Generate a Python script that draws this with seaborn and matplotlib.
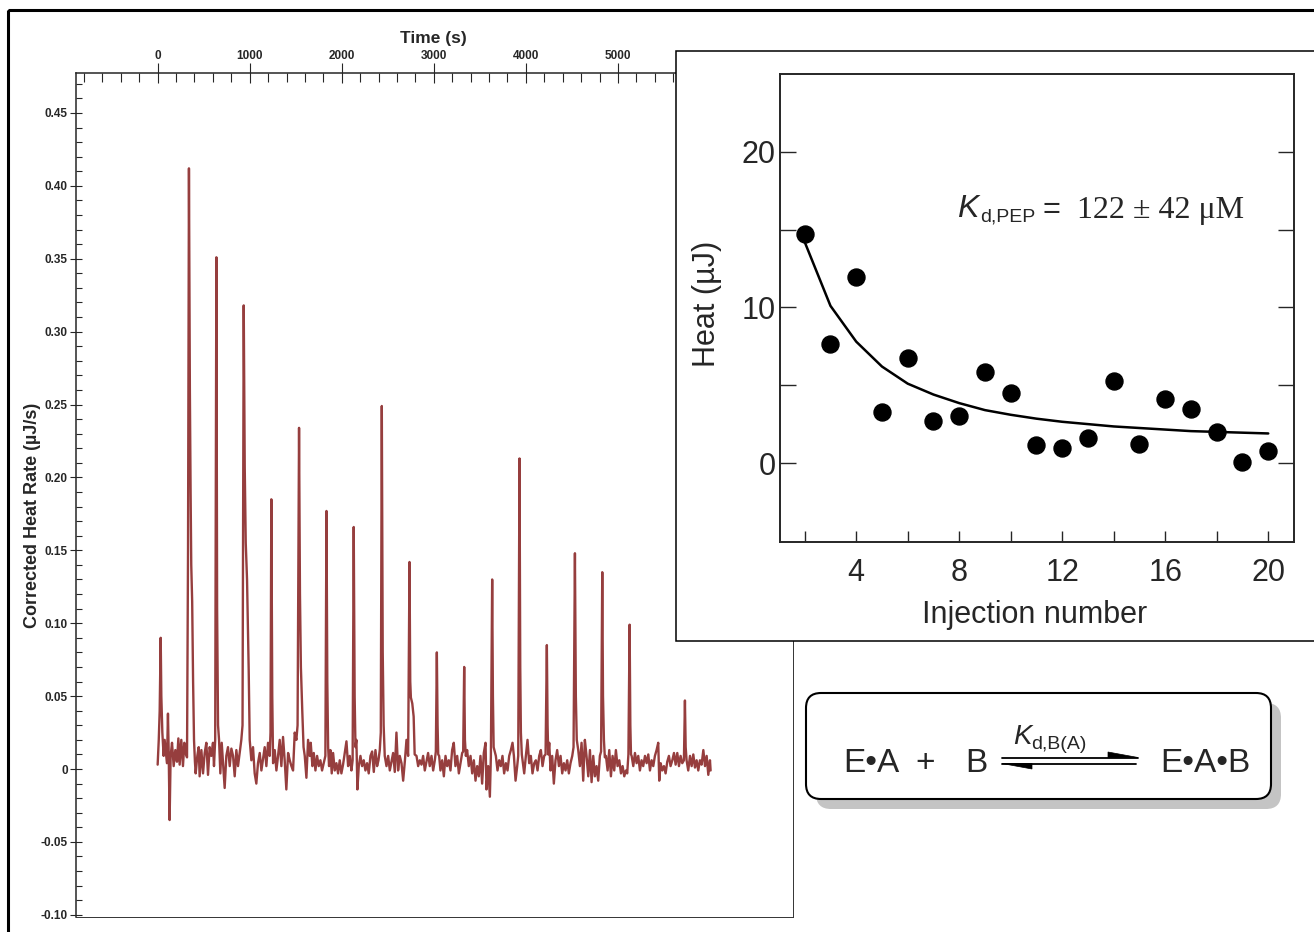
import matplotlib
matplotlib.use("Agg")
import matplotlib.pyplot as plt
import seaborn as sns
from matplotlib import font_manager
from matplotlib.patches import Rectangle, FancyBboxPatch, Polygon
from matplotlib.ticker import FixedLocator, FuncFormatter

# ITC thermogram (time in s, corrected heat rate in uJ/s)
time_s = [
    0, 12, 22, 33, 40, 51, 65, 76, 87, 101, 112, 120, 130, 141, 156, 174, 192, 210, 225, 239, 257, 275, 290, 304, 319,
    330, 340, 350, 358, 365, 375, 385, 395, 405,
    413, 431, 446, 456, 475, 493, 511, 529, 547, 565, 583, 601, 612, 625,
    638, 646, 656,
    667, 681, 696, 710, 728, 746, 764, 783, 801, 819, 837, 855, 873, 891, 909, 922,
    935, 946, 957, 971, 989,
    1000, 1018, 1036, 1054, 1072, 1090, 1109, 1127, 1145, 1163, 1181, 1199, 1217, 1226,
    1235, 1245,
    1254, 1272, 1290, 1308, 1326, 1344, 1362, 1380, 1398, 1417, 1435, 1453, 1471, 1489, 1507, 1520,
    1536, 1546, 1556, 1571, 1585,
    1598, 1616, 1634, 1652, 1663, 1681, 1696, 1714, 1732, 1750, 1768, 1786, 1804, 1822,
    1834, 1843, 1852,
    1862, 1877, 1891, 1906, 1924, 1942, 1960, 1978, 1996, 2014, 2033, 2051, 2069, 2087, 2105, 2118,
    2130, 2140, 2149,
    2159, 2170, 2185, 2203, 2221, 2239, 2257, 2275, 2293, 2312, 2330, 2348, 2366, 2384, 2399, 2413, 2424,
    2435, 2445, 2455,
    2467, 2486, 2504, 2522, 2540, 2558, 2576, 2594, 2612, 2630, 2649, 2667, 2685, 2703, 2721,
    2736, 2744, 2751, 2766, 2781, 2792,
    2812, 2830, 2848, 2866, 2884, 2902, 2920, 2938, 2956, 2975, 2993, 3011, 3022,
    3033, 3041, 3048,
    3058, 3072, 3091, 3109, 3127, 3145, 3163, 3181, 3199, 3217, 3235, 3254, 3272, 3290, 3308, 3319,
    3330, 3338,
    3348, 3362, 3380, 3399, 3417, 3435, 3453, 3471, 3489, 3507, 3525, 3543, 3562, 3572, 3591, 3609, 3620,
    3634, 3642, 3650,
    3674, 3692, 3710, 3728, 3746, 3764, 3783, 3801, 3819, 3837, 3855, 3870, 3888, 3906, 3917,
    3931, 3939, 3946, 3956,
    3964, 3982, 4000, 4018, 4036, 4054, 4072, 4091, 4109, 4127, 4145, 4163, 4181, 4199, 4214,
    4228, 4236, 4243,
    4254, 4268, 4286, 4304, 4322, 4340, 4359, 4377, 4395, 4413, 4431, 4449, 4467, 4485, 4504, 4518,
    4533, 4543, 4553,
    4569, 4587, 4605, 4623, 4641, 4659, 4678, 4696, 4714, 4732, 4750, 4768, 4786, 4804, 4817,
    4830, 4838, 4848, 4858,
    4870, 4888, 4906, 4924, 4942, 4960, 4978, 4996, 5015, 5033, 5051, 5069, 5087, 5101, 5114,
    5127, 5135, 5142,
    5149, 5167, 5185, 5203, 5221, 5239, 5257, 5275, 5294, 5312, 5330, 5348, 5366, 5384, 5402, 5420,
    5438, 5449, 5464, 5482, 5500, 5518, 5536, 5554, 5572, 5591, 5609, 5627, 5645, 5663, 5681, 5699, 5717,
    5728, 5736,
    5746, 5764, 5783, 5801, 5819, 5837, 5855, 5873, 5891, 5909, 5928, 5946, 5964, 5982, 6000, 6007,
]
rate = [
    0.003, 0.020, 0.040, 0.090, 0.050, 0.025, 0.009, 0.020, 0.013, 0.004, 0.038, 0.011, -0.035, 0.009, 0.018, 0.002,
    0.013, 0.005, 0.021, 0.003, 0.020, 0.002, 0.018, 0.011, 0.008,
    0.150, 0.412, 0.260, 0.190, 0.140, 0.115, 0.060, 0.020, 0.005,
    -0.003, 0.009, 0.015, -0.005, 0.013, -0.003, 0.011, 0.018, -0.004, 0.015, 0.009, 0.018, 0.002, 0.020,
    0.351, 0.110, 0.030,
    0.020, -0.003, 0.018, 0.004, -0.013, 0.009, 0.015, 0.002, 0.014, 0.009, -0.005, 0.013, 0.002, 0.011, 0.020, 0.030,
    0.318, 0.207, 0.155, 0.130, 0.068,
    0.020, 0.006, 0.015, -0.003, -0.010, 0.004, 0.011, -0.001, 0.007, 0.015, 0.002, 0.018, 0.009, 0.025,
    0.185, 0.050,
    0.004, 0.013, -0.001, 0.009, 0.020, 0.002, 0.022, 0.006, -0.014, 0.011, 0.006, 0.002, -0.001, 0.025, 0.020, 0.030,
    0.234, 0.120, 0.070, 0.040, 0.015,
    0.009, -0.006, 0.020, 0.009, 0.018, 0.002, 0.011, -0.001, 0.009, 0.002, 0.006, -0.001, 0.004, 0.009,
    0.177, 0.060, 0.015,
    0.002, 0.013, -0.003, 0.011, -0.001, 0.004, -0.003, 0.006, -0.003, 0.003, 0.011, 0.019, 0.002, 0.009, -0.001, 0.006,
    0.166, 0.050, 0.015,
    0.020, -0.014, 0.002, 0.009, 0.002, 0.006, -0.001, 0.004, -0.003, 0.009, 0.012, -0.002, 0.013, 0.002, 0.006, 0.013,
    0.025,
    0.249, 0.080, 0.030,
    0.009, 0.002, 0.009, -0.001, 0.005, 0.011, -0.002, 0.025, -0.001, 0.009, 0.004, -0.008, 0.005, 0.020, 0.009,
    0.142, 0.060, 0.049, 0.045, 0.036, 0.010,
    0.009, 0.002, 0.006, 0.003, 0.009, -0.001, 0.005, 0.011, 0.002, 0.009, -0.001, 0.006, 0.012,
    0.080, 0.030, 0.010,
    0.009, -0.001, 0.006, -0.005, 0.009, 0.002, 0.006, -0.001, 0.013, 0.018, 0.002, 0.009, -0.003, 0.004, 0.011, 0.012,
    0.070, 0.020,
    0.009, 0.013, 0.002, 0.009, -0.003, 0.006, -0.008, 0.002, -0.005, 0.009, -0.010, 0.011, 0.018, -0.014, 0.002,
    -0.019, 0.009,
    0.130, 0.050, 0.015,
    0.009, -0.001, 0.006, 0.002, 0.009, -0.003, 0.004, -0.001, 0.009, 0.013, 0.018, 0.009, -0.008, 0.002, 0.009,
    0.213, 0.070, 0.025, 0.010,
    0.006, -0.003, 0.009, 0.020, 0.004, 0.009, -0.003, 0.004, 0.006, -0.001, 0.009, 0.013, 0.002, 0.009, 0.010,
    0.085, 0.030, 0.010,
    0.018, -0.001, 0.009, -0.010, 0.006, 0.013, 0.002, 0.009, -0.003, 0.004, -0.001, 0.006, -0.003, 0.004, 0.009, 0.015,
    0.148, 0.050, 0.020,
    0.013, 0.002, 0.018, -0.008, 0.020, 0.009, -0.005, 0.013, -0.009, 0.009, -0.005, 0.002, -0.008, 0.009, 0.012,
    0.135, 0.050, 0.020, 0.008,
    0.009, -0.001, 0.013, -0.005, 0.009, -0.001, 0.013, 0.002, 0.006, -0.003, 0.002, -0.005, -0.001, -0.003, 0.010,
    0.099, 0.030, 0.010,
    0.009, 0.002, 0.011, 0.004, 0.009, -0.001, 0.006, 0.002, 0.009, 0.004, 0.010, -0.001, 0.006, 0.002, 0.009, 0.013,
    0.018, -0.008, 0.004, -0.001, 0.002, -0.003, 0.005, 0.009, 0.002, 0.006, 0.011, 0.003, 0.011, 0.002, 0.009, 0.004,
    0.006,
    0.047, 0.015,
    0.006, -0.001, 0.009, 0.002, 0.010, 0.001, 0.006, -0.001, 0.006, 0.003, 0.013, 0.002, 0.009, -0.004, 0.006, -0.001,
]
assert len(time_s) == len(rate)

# integrated heats per injection and the binding fit
injection = list(range(2, 21))
heat_uj = [14.7, 7.65, 11.95, 3.25, 6.75, 2.7, 3.0, 5.85, 4.5, 1.15, 0.95, 1.6, 5.3, 1.2, 4.1, 3.5, 2.0, 0.05, 0.8]
fit_uj = [14.2, 10.1, 7.8, 6.2, 5.1, 4.4, 3.85, 3.4, 3.1, 2.85, 2.65, 2.5, 2.35, 2.25, 2.15, 2.05, 2.0, 1.95, 1.9]

time_ticks = [0, 1000, 2000, 3000, 4000, 5000]
rate_ticks = [-0.10, -0.05, 0, 0.05, 0.10, 0.15, 0.20, 0.25, 0.30, 0.35, 0.40, 0.45]
inj_ticks = [4, 8, 12, 16, 20]
heat_ticks = [0, 10, 20]

sns.set_style("ticks")
plt.rcParams["font.family"] = ["Liberation Sans", "DejaVu Sans"]
installed = {f.name for f in font_manager.fontManager.ttflist}
narrow = "Liberation Sans Narrow" if "Liberation Sans Narrow" in installed else "Liberation Sans"

W, H = 1314, 932
fig = plt.figure(figsize=(W / 100, H / 100), dpi=100)


def box(left, top, right, bottom):
    return [left / W, 1 - bottom / H, (right - left) / W, (bottom - top) / H]


# ---- thermogram ----
ax = fig.add_axes(box(76, 73, 793, 917))
sns.lineplot(x=time_s, y=rate, ax=ax, estimator=None, sort=False, color="#963e3e", lw=1.7)
ax.set_xlim(-887, 6902)
ax.set_ylim(-0.1015, 0.4774)
ax.xaxis.tick_top()
ax.xaxis.set_label_position("top")
ax.xaxis.set_major_locator(FixedLocator(time_ticks))
ax.xaxis.set_minor_locator(FixedLocator(list(range(-800, 6900, 200))))
ax.yaxis.set_major_locator(FixedLocator(rate_ticks))
ax.yaxis.set_minor_locator(FixedLocator([i / 100 for i in range(-10, 48)]))
ax.yaxis.set_major_formatter(FuncFormatter(lambda v, p: "0" if abs(v) < 1e-9 else f"{v:.2f}"))
ax.tick_params(axis="x", which="major", direction="inout", length=14, width=0.8, pad=1)
ax.tick_params(axis="x", which="minor", direction="in", length=6.5, width=0.8)
ax.tick_params(axis="y", which="major", direction="inout", length=8, width=0.8, pad=2)
ax.tick_params(axis="y", which="minor", direction="in", length=4.3, width=0.8)
for lab in ax.get_xticklabels() + ax.get_yticklabels():
    lab.set_fontfamily(narrow)
    lab.set_fontweight("bold")
    lab.set_fontsize(8.5)
for side in ["left", "top"]:
    ax.spines[side].set_linewidth(1.1)
for side in ["right", "bottom"]:
    ax.spines[side].set_linewidth(0.7)
    ax.spines[side].set_color("#333333")
ax.set_xlabel("Time (s)", fontfamily=narrow, fontweight="bold", fontsize=12.5)
ax.set_ylabel("Corrected Heat Rate (\u00b5J/s)", fontweight="bold", fontsize=13)
ax.xaxis.set_label_coords(0.499, 1.035)
ax.yaxis.set_label_coords(-0.049, 0.476)

# ---- overlay in pixel units for frames and the scheme ----
ov = fig.add_axes([0, 0, 1, 1], zorder=1)
ov.set_xlim(0, W)
ov.set_ylim(H, 0)
ov.axis("off")
ov.patch.set_alpha(0)
ov.add_patch(Rectangle((8, 10), W + 20, H + 20, fill=False, ec="black", lw=2.2))
ov.add_patch(Rectangle((676, 51), W, 590, fc="white", ec="black", lw=1.1))

ov.add_patch(FancyBboxPatch((816, 703), 465, 106, boxstyle="round,pad=0,rounding_size=15",
                            fc="#c4c4c4", ec="none"))
ov.add_patch(FancyBboxPatch((806, 693), 465, 106, boxstyle="round,pad=0,rounding_size=15",
                            fc="white", ec="black", lw=1.5))
ov.text(843, 772, "E\u2022A", fontsize=24, va="baseline", ha="left")
ov.text(925, 772, "+", fontsize=24, va="baseline", ha="center")
ov.text(965, 772, "B", fontsize=24, va="baseline", ha="left")
ov.text(1160, 772, "E\u2022A\u2022B", fontsize=24, va="baseline", ha="left")
ov.plot([1002, 1138], [757.5, 757.5], color="black", lw=1.3)
ov.add_patch(Polygon([[1108, 752], [1138, 757.5], [1108, 757.5]], closed=True, fc="black", ec="black", lw=0.5))
ov.plot([1002, 1136], [763.5, 763.5], color="black", lw=1.3)
ov.add_patch(Polygon([[1032, 769], [1002, 763.5], [1032, 763.5]], closed=True, fc="black", ec="black", lw=0.5))
ov.text(1013, 744, "K", fontsize=20, fontstyle="italic", va="baseline", ha="left")
ov.text(1031, 749, "d,B(A)", fontsize=14, va="baseline", ha="left")

# ---- inset: integrated heats ----
ai = fig.add_axes(box(780, 74, 1294, 541.6), zorder=2)
ai.patch.set_alpha(0)
sns.lineplot(x=injection, y=fit_uj, ax=ai, color="black", lw=1.8)
sns.scatterplot(x=injection, y=heat_uj, ax=ai, s=150, color="black", edgecolor="black", zorder=3)
ai.set_xlim(1.04, 21.0)
ai.set_ylim(-5.05, 25)
ai.xaxis.set_major_locator(FixedLocator(inj_ticks))
ai.xaxis.set_minor_locator(FixedLocator([2, 6, 10, 14, 18]))
ai.yaxis.set_major_locator(FixedLocator(heat_ticks))
ai.yaxis.set_minor_locator(FixedLocator([5, 15]))
ai.tick_params(axis="x", which="both", direction="in", length=8, width=1, bottom=True, top=False,
               labelsize=22, pad=12)
ai.tick_params(axis="y", which="both", direction="in", length=11.5, width=1, left=True, right=True,
               labelsize=22, pad=3)
for s in ai.spines.values():
    s.set_linewidth(1.4)
ai.set_xlabel("Injection number", fontsize=22)
ai.set_ylabel("Heat (\u00b5J)", fontsize=22)
ai.xaxis.set_label_coords(0.496, -0.125)
ai.yaxis.set_label_coords(-0.113, 0.509)

ov2 = fig.add_axes([0, 0, 1, 1], zorder=3)
ov2.set_xlim(0, W)
ov2.set_ylim(H, 0)
ov2.axis("off")
ov2.patch.set_alpha(0)
ov2.text(957, 217, "K", fontsize=23, fontstyle="italic", va="baseline", ha="left")
ov2.text(980, 222, "d,PEP", fontsize=14, va="baseline", ha="left")
ov2.text(1043, 218, "=", fontsize=22, va="baseline", ha="left")
ov2.text(1077, 218, "122 \u00b1 42 \u03bcM", fontsize=23, fontfamily="Liberation Serif", va="baseline", ha="left")

fig.savefig("out.png", dpi=100)
